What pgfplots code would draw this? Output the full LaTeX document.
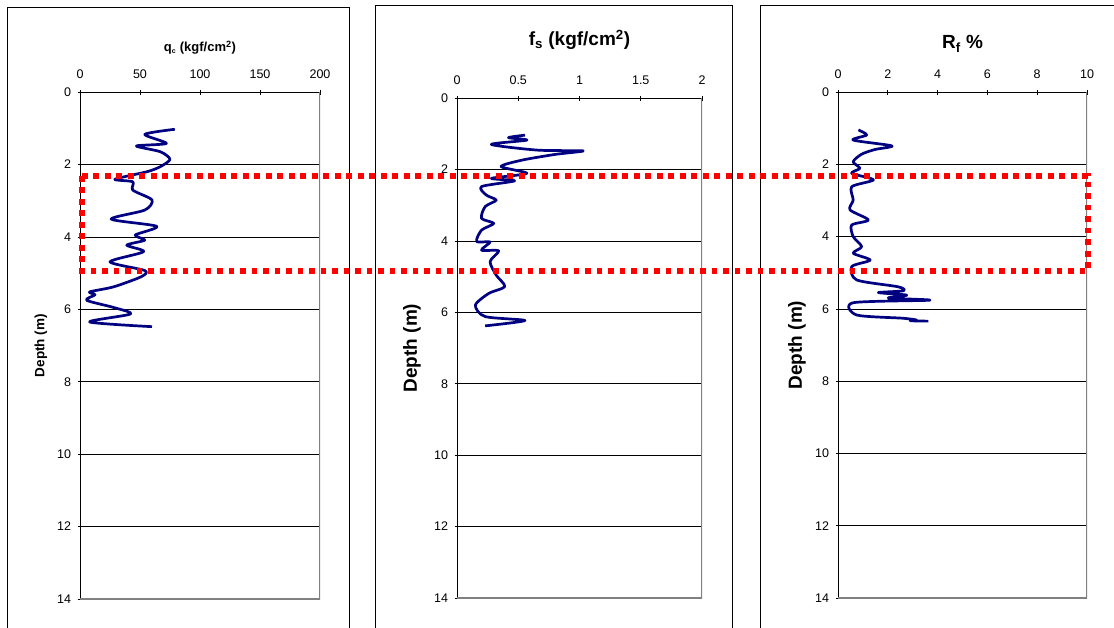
\documentclass[border=0pt]{standalone}
\usepackage{fontspec}
\setmainfont{Liberation Sans}
\usepackage{pgfplots}
\pgfplotsset{compat=1.18}
\definecolor{navy}{RGB}{0,0,128}
\definecolor{shadow}{RGB}{128,128,128}
\pgfplotsset{
  cpt/.style={
    scale only axis, anchor=north west,
    ymin=0, ymax=14, y dir=reverse, ytick={0,2,...,14},
    ymajorgrids, grid style={black, line width=0.7pt},
    axis line style={draw=none},
    xtick pos=right, xticklabel pos=right, ytick pos=left,
    tick align=center, major tick length=5pt,
    tick style={black, line width=0.7pt},
    ticklabel style={font=\fontsize{12.5}{14}\selectfont},
    yticklabel style={xshift=-3pt},
    xticklabel style={yshift=7pt},
    /pgf/number format/assume math mode=true,
    title style={anchor=center, inner sep=0pt, yshift=-6pt},
    ylabel style={anchor=center, inner sep=0pt},
  },
  curve/.style={navy, line width=2.7pt, smooth, tension=0.45, line join=round},
}
\pgfplotstableread{
x y
79 1.03
54 1.17
72 1.42
47 1.49
67 1.65
75 1.86
67 2.06
56 2.20
29 2.41
44 2.48
44 2.71
60 2.98
54 3.26
26 3.51
64 3.71
46 3.95
54 4.09
39 4.23
53 4.41
25 4.69
54 4.93
51 5.10
28 5.38
8 5.52
12.5 5.60
5.5 5.75
28 5.95
42 6.13
8 6.35
60 6.48
}\qc
\pgfplotstableread{
x y
0.555 1.04
0.42 1.11
0.57 1.18
0.28 1.30
0.66 1.46
1.03 1.48
0.80 1.58
0.53 1.74
0.36 1.92
0.57 2.11
0.28 2.25
0.47 2.32
0.20 2.48
0.24 2.72
0.32 2.86
0.23 3.04
0.20 3.37
0.30 3.51
0.20 3.70
0.16 4.02
0.27 4.03
0.20 4.26
0.34 4.28
0.27 4.58
0.32 4.96
0.39 5.28
0.26 5.47
0.15 5.80
0.23 6.12
0.555 6.23
0.23 6.38
}\fs
\pgfplotstableread{
x y
0.82 1.05
1.15 1.19
0.61 1.33
2.16 1.49
1.49 1.59
0.95 1.72
0.61 1.93
0.88 2.11
0.55 2.25
1.42 2.43
0.55 2.62
0.61 2.99
0.48 3.26
1.22 3.54
0.55 3.68
0.61 4.00
0.95 4.28
0.61 4.46
1.29 4.65
0.55 4.83
0.75 5.20
2.42 5.39
2.62 5.50
1.62 5.55
2.76 5.62
2.02 5.70
3.69 5.76
0.61 5.83
0.75 6.17
2.62 6.26
3.16 6.31
2.90 6.33
3.63 6.34
}\rf
\begin{document}
\begin{tikzpicture}
\useasboundingbox (0pt,0pt) rectangle (1114pt,-628pt);
% panel frames
\draw[black, line width=0.8pt] (7pt,-628pt) -- (7pt,-7pt) -- (349pt,-7pt) -- (349pt,-628pt);
\draw[black, line width=0.8pt] (375pt,-628pt) -- (375pt,-5pt) -- (732pt,-5pt) -- (732pt,-628pt);
\draw[black, line width=0.8pt] (760pt,-628pt) -- (760pt,-5pt) -- (1114pt,-5pt);

\begin{axis}[cpt, at={(80pt,-92pt)}, width=240pt, height=507pt,
  xmin=0, xmax=200, xtick={0,50,...,200},
  title={\textbf{q\textsubscript{\scriptsize c} (kgf/cm\textsuperscript{2})}},
  title style={at={(axis description cs:0.5,1.087)}, font=\fontsize{13}{15}\selectfont},
  ylabel={\textbf{Depth (m)}},
  ylabel style={at={(axis description cs:-0.1625,0.5)}, font=\fontsize{13.5}{15}\selectfont}]
\addplot[curve] table[x=x,y=y] {\qc};
\draw[black, line width=1.5pt] (axis cs:0,14) -- (axis cs:0,0) -- (axis cs:200,0);
\draw[shadow, line width=2pt] (axis cs:200,0) -- (axis cs:200,14) -- (axis cs:0,14);
\end{axis}

\begin{axis}[cpt, at={(457pt,-98pt)}, width=245pt, height=500pt,
  xmin=0, xmax=2, xtick={0,0.5,...,2},
  title={\textbf{f\textsubscript{s} (kgf/cm\textsuperscript{2})}},
  title style={at={(axis description cs:0.5,1.116)}, font=\fontsize{19}{21}\selectfont},
  ylabel={\textbf{Depth (m)}},
  ylabel style={at={(axis description cs:-0.184,0.5)}, font=\fontsize{19}{21}\selectfont}]
\addplot[curve] table[x=x,y=y] {\fs};
\draw[black, line width=1.5pt] (axis cs:0,14) -- (axis cs:0,0) -- (axis cs:2,0);
\draw[shadow, line width=2pt] (axis cs:2,0) -- (axis cs:2,14) -- (axis cs:0,14);
\end{axis}

\begin{axis}[cpt, at={(838pt,-92pt)}, width=249pt, height=506pt,
  xmin=0, xmax=10, xtick={0,2,...,10},
  title={\textbf{R\textsubscript{f} \%}},
  title style={at={(axis description cs:0.5,1.095)}, font=\fontsize{19}{21}\selectfont},
  ylabel={\textbf{Depth (m)}},
  ylabel style={at={(axis description cs:-0.165,0.5)}, font=\fontsize{19}{21}\selectfont}]
\addplot[curve] table[x=x,y=y] {\rf};
\draw[black, line width=1.5pt] (axis cs:0,14) -- (axis cs:0,0) -- (axis cs:10,0);
\draw[shadow, line width=2pt] (axis cs:10,0) -- (axis cs:10,14) -- (axis cs:0,14);
\end{axis}

% highlighted depth interval
\draw[red, line width=5.5pt, dash pattern=on 5.7pt off 5.8pt] (82pt,-176pt) rectangle (1088pt,-271pt);
\end{tikzpicture}
\end{document}
